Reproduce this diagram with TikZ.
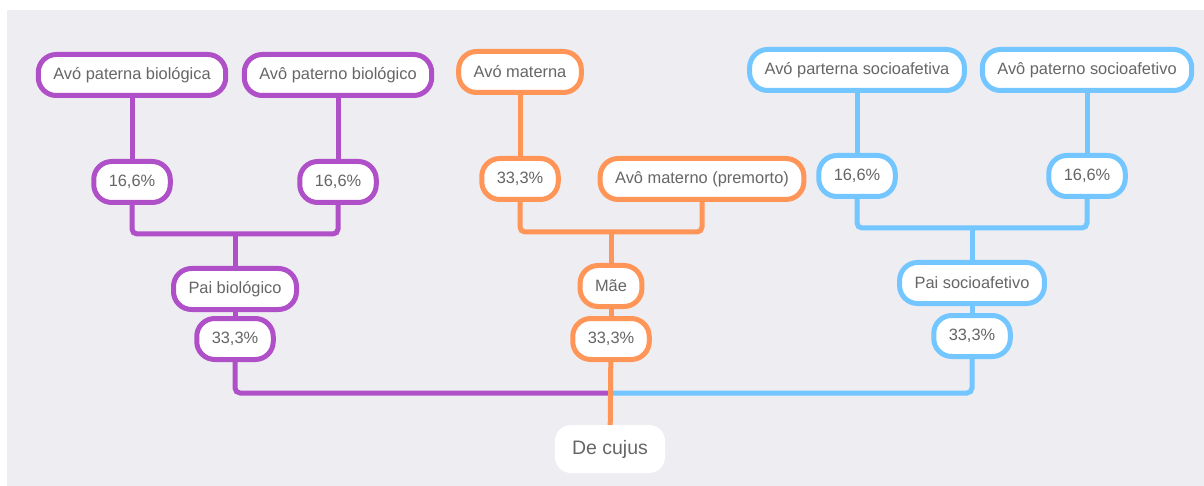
\documentclass[tikz,border=0pt]{standalone}
\usepackage{fontspec}
\setmainfont{Liberation Sans}
\definecolor{roxo}{RGB}{176,80,200}
\definecolor{laranja}{RGB}{255,150,88}
\definecolor{azul}{RGB}{115,198,255}
\definecolor{fundo}{RGB}{238,237,242}
\definecolor{texto}{RGB}{102,102,102}
\tikzset{
  caixa/.style={draw, line width=5pt, fill=white, rounded corners=18pt,
    minimum height=41pt, inner xsep=15pt, text=texto,
    font=\fontsize{16.4}{19}\selectfont},
  liga/.style={line width=5pt, rounded corners=5pt},
}
\begin{document}
\begin{tikzpicture}[x=1pt,y=-1pt]
\fill[white] (0,0) rectangle (1204,486);
\fill[fundo] (7,10) rectangle (1204,486);

% lado paterno biologico
\node[caixa, draw=roxo] (avoPB) at (132,75) {Avó paterna biológica};
\node[caixa, draw=roxo] (vovoPB) at (338,75) {Avô paterno biológico};
\node[caixa, draw=roxo] (pctA) at (132,182) {16,6\%};
\node[caixa, draw=roxo] (pctB) at (338,182) {16,6\%};
\node[caixa, draw=roxo] (paiB) at (235,289) {Pai biológico};
\node[caixa, draw=roxo] (pctPB) at (235,339) {33,3\%};
\coordinate (jPB) at (235,234);

% lado materno
\node[caixa, draw=laranja] (avoM) at (520,72) {Avó materna};
\node[caixa, draw=laranja] (pctM) at (520,179) {33,3\%};
\node[caixa, draw=laranja] (vovoM) at (702,179) {Avô materno (premorto)};
\node[caixa, draw=laranja] (mae) at (611,286) {Mãe};
\node[caixa, draw=laranja] (pctMae) at (611,339) {33,3\%};
\coordinate (jM) at (611,232);

% lado socioafetivo
\node[caixa, draw=azul] (avoS) at (857,70) {Avó parterna socioafetiva};
\node[caixa, draw=azul] (vovoS) at (1087,70) {Avô paterno socioafetivo};
\node[caixa, draw=azul] (pctC) at (857,176) {16,6\%};
\node[caixa, draw=azul] (pctD) at (1087,176) {16,6\%};
\node[caixa, draw=azul] (paiS) at (972,283) {Pai socioafetivo};
\node[caixa, draw=azul] (pctPS) at (972,336) {33,3\%};
\coordinate (jS) at (972,228);

\node[fill=white, rounded corners=16pt, minimum height=48pt, minimum width=110pt,
  text=texto, font=\fontsize{19.5}{22}\selectfont] (cujus) at (610,449) {De cujus};
\coordinate (base) at (611,393);

\draw[liga, roxo] (avoPB) -- (pctA);
\draw[liga, roxo] (vovoPB) -- (pctB);
\draw[liga, roxo] (pctA.south) |- (jPB) -| (pctB.south);
\draw[liga, roxo] (jPB) -- (paiB);
\draw[liga, roxo] (paiB) -- (pctPB);
\draw[liga, roxo] (pctPB.south) |- (base);

\draw[liga, laranja] (avoM) -- (pctM);
\draw[liga, laranja] (pctM.south) |- (jM) -| (vovoM.south);
\draw[liga, laranja] (jM) -- (mae);
\draw[liga, laranja] (mae) -- (pctMae);

\draw[liga, azul] (avoS) -- (pctC);
\draw[liga, azul] (vovoS) -- (pctD);
\draw[liga, azul] (pctC.south) |- (jS) -| (pctD.south);
\draw[liga, azul] (jS) -- (paiS);
\draw[liga, azul] (paiS) -- (pctPS);
\draw[liga, azul] (pctPS.south) |- (base);

\draw[liga, laranja] (pctMae) -- (cujus);
\end{tikzpicture}
\end{document}
